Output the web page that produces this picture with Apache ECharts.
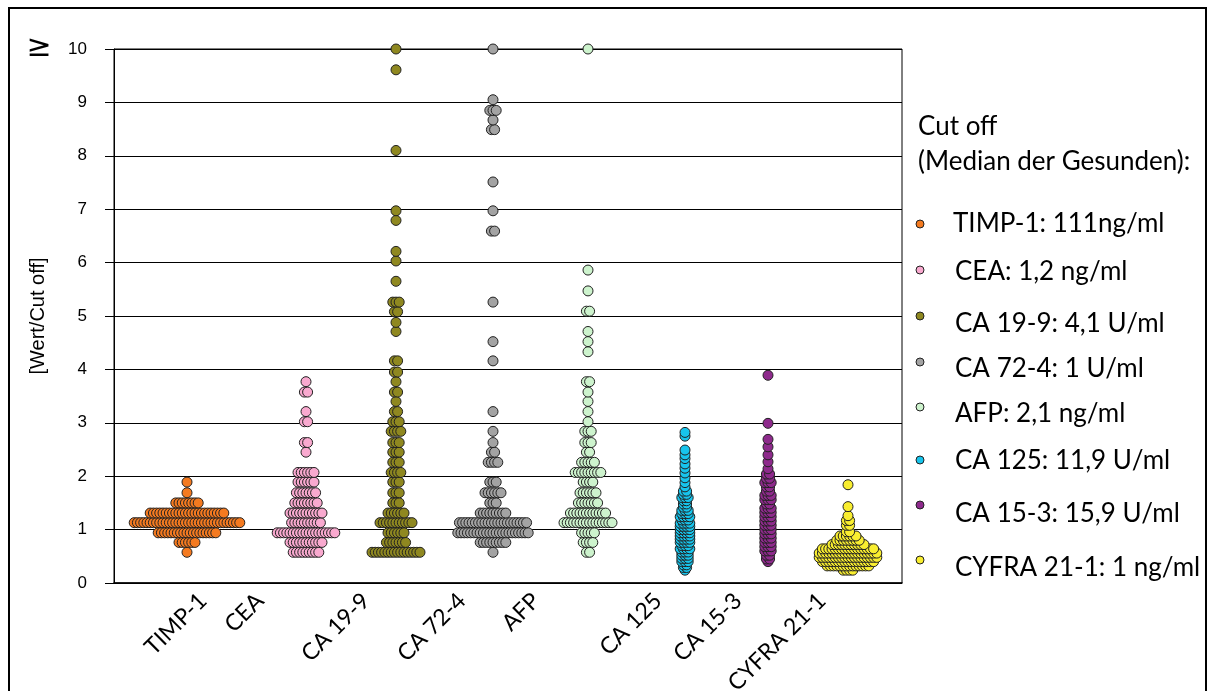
<!DOCTYPE html>
<html>
<head>
<meta charset="utf-8">
<script src="https://cdn.jsdelivr.net/npm/echarts@6/dist/echarts.min.js"></script>
<style>
  html, body { margin: 0; padding: 0; background: #fff; }
  #chart { width: 1214px; height: 691px; }
</style>
</head>
<body>
<div id="chart"></div>
<script>
// Marker names and their cut-off values (median of healthy controls)
const categories = ['TIMP-1', 'CEA', 'CA 19-9', 'CA 72-4', 'AFP', 'CA 125', 'CA 15-3', 'CYFRA 21-1'];
const cutoffs = ['111ng/ml', '1,2 ng/ml', '4,1 U/ml', '1 U/ml', '2,1 ng/ml', '11,9 U/ml', '15,9 U/ml', '1 ng/ml'];
const colors = ['#F47A20', '#F9A9CF', '#8F8820', '#A3A3A3', '#CDF3CD', '#17C4EC', '#8E2A8C', '#F9EE2F'];

// Y axis ticks
const yTicks = [0, 1, 2, 3, 4, 5, 6, 7, 8, 9, 10];

// Value levels [Wert/Cut off] and number of patients at each level
const timpLevels = [0.575, 0.76, 0.94, 1.13, 1.31, 1.5, 1.69, 1.89];
const timpCounts = [1, 6, 19, 34, 24, 8, 1, 1];

const ceaLevels = [0.575, 0.76, 0.94, 1.13, 1.31, 1.5, 1.69, 1.89, 2.07, 2.45, 2.63, 3.02, 3.21, 3.575, 3.77];
const ceaCounts = [9, 11, 19, 10, 11, 8, 7, 6, 6, 1, 2, 2, 1, 2, 1];

const ca199Levels = [0.575, 0.76, 0.94, 1.13, 1.31, 1.5, 1.69, 1.89, 2.07, 2.26, 2.45, 2.63, 2.84, 3.02, 3.21, 3.4, 3.575, 3.77, 3.95, 4.16, 4.71, 4.88, 5.08, 5.26, 5.65, 6.03, 6.21, 6.79, 6.97, 8.1, 9.61, 10];
const ca199Counts = [16, 7, 6, 11, 6, 3, 3, 3, 4, 3, 3, 3, 4, 3, 2, 1, 2, 1, 2, 2, 1, 1, 2, 3, 1, 1, 1, 1, 1, 1, 1, 1];

const ca724Levels = [0.575, 0.76, 0.94, 1.13, 1.31, 1.5, 1.69, 1.89, 2.26, 2.45, 2.63, 2.84, 3.21, 4.16, 4.52, 5.26, 6.59, 6.97, 7.51, 8.49, 8.67, 8.85, 9.05, 10];
const ca724Counts = [1, 9, 23, 22, 9, 3, 6, 3, 4, 2, 1, 1, 1, 1, 1, 1, 2, 1, 1, 2, 1, 3, 1, 1];

const afpLevels = [0.575, 0.76, 0.94, 1.13, 1.31, 1.5, 1.69, 1.89, 2.07, 2.26, 2.45, 2.63, 2.84, 3.02, 3.21, 3.4, 3.575, 3.77, 4.33, 4.52, 4.71, 5.09, 5.47, 5.86, 10];
const afpCounts = [2, 4, 5, 16, 12, 7, 6, 4, 9, 5, 2, 3, 3, 1, 1, 1, 1, 2, 1, 1, 1, 2, 1, 1, 1];

const ca125Levels = [0.24, 0.29, 0.34, 0.40, 0.46, 0.52, 0.58, 0.64, 0.70, 0.76, 0.82, 0.88, 0.94, 1.00, 1.06, 1.12, 1.18, 1.24, 1.30, 1.36, 1.42, 1.48, 1.54, 1.60, 1.66, 1.72, 1.80, 1.88, 1.97, 2.06, 2.15, 2.23, 2.33, 2.40, 2.49, 2.75, 2.82];
const ca125Counts = [1, 2, 2, 3, 3, 3, 3, 4, 3, 4, 4, 4, 4, 4, 4, 4, 3, 4, 3, 3, 2, 2, 2, 3, 2, 2, 1, 1, 1, 1, 1, 1, 1, 1, 1, 1, 1];

const ca153Levels = [0.40, 0.45, 0.52, 0.60, 0.68, 0.76, 0.84, 0.92, 1.00, 1.08, 1.16, 1.24, 1.32, 1.40, 1.48, 1.56, 1.64, 1.72, 1.80, 1.88, 1.96, 2.04, 2.14, 2.27, 2.40, 2.55, 2.69, 2.99, 3.89];
const ca153Counts = [1, 2, 2, 3, 3, 3, 3, 3, 3, 3, 3, 3, 3, 3, 2, 3, 3, 2, 2, 3, 2, 2, 1, 1, 1, 1, 1, 1, 1];

const cyfraLevels = [0.24, 0.32, 0.40, 0.48, 0.56, 0.64, 0.72, 0.80, 0.88, 0.96, 1.08, 1.17, 1.26, 1.43, 1.84];
const cyfraCounts = [4, 14, 17, 19, 19, 17, 11, 8, 6, 2, 2, 2, 1, 1, 1];

const levelSets = [timpLevels, ceaLevels, ca199Levels, ca724Levels, afpLevels, ca125Levels, ca153Levels, cyfraLevels];
const countSets = [timpCounts, ceaCounts, ca199Counts, ca724Counts, afpCounts, ca125Counts, ca153Counts, cyfraCounts];

// Layout: horizontal axis runs in pixel-like units across the plot area
const X_SPAN = 788;
const columnCenters = [73, 192, 282, 379, 474, 571, 654, 734];
const labelAnchors = [89, 146, 252, 348, 422, 544, 624, 708];
const STEP = 3.2; // horizontal spacing of points sharing a level

function swarm(center, levels, counts) {
  const pts = [];
  levels.forEach((v, k) => {
    const n = counts[k];
    for (let i = 0; i < n; i++) pts.push([center + (i - (n - 1) / 2) * STEP, v]);
  });
  return pts;
}

const series = categories.map((name, i) => ({
  name,
  type: 'scatter',
  symbol: 'circle',
  symbolSize: 10,
  data: swarm(columnCenters[i], levelSets[i], countSets[i]),
  itemStyle: { color: colors[i], borderColor: '#222', borderWidth: 1, opacity: 1 },
  emphasis: { disabled: true },
  silent: true
}));

// Legend block drawn as shapes + text
const LEGEND_FONT = '26px Lato';
const legendMarkY = [224, 270, 316, 362, 407, 460, 505, 560];
const legendTextY = [224, 272, 324, 369, 414, 461, 514, 568];
const legendGraphics = [];
categories.forEach((name, i) => {
  legendGraphics.push({
    type: 'circle', shape: { cx: 920, cy: legendMarkY[i], r: 4 },
    style: { fill: colors[i], stroke: '#222', lineWidth: 1 }
  });
  legendGraphics.push({
    type: 'text', x: i === 0 ? 953 : 955, y: legendTextY[i],
    style: { text: name + ': ' + cutoffs[i], font: LEGEND_FONT, fill: '#000', verticalAlign: 'middle' }
  });
});

const chart = echarts.init(document.getElementById('chart'), null, { renderer: 'canvas' });
chart.setOption({
  animation: false,
  backgroundColor: '#fff',
  grid: {
    left: 114, top: 49, right: 312, bottom: 108,
    outerBoundsMode: 'none', containLabel: false,
    show: true, borderColor: '#000', borderWidth: 1, backgroundColor: 'transparent'
  },
  xAxis: {
    type: 'value', min: 0, max: X_SPAN,
    splitLine: { show: false },
    axisTick: { show: false },
    axisLine: { show: true, onZero: false, lineStyle: { color: '#000', width: 1.5 } },
    axisLabel: {
      customValues: labelAnchors,
      formatter: (v) => categories[labelAnchors.indexOf(v)] || '',
      rotate: 45, margin: 14,
      fontFamily: 'Lato', fontSize: 23, color: '#000'
    }
  },
  yAxis: {
    type: 'value', min: yTicks[0], max: yTicks[yTicks.length - 1], interval: 1,
    name: '[Wert/Cut off]', nameLocation: 'middle', nameRotate: 90, nameGap: 66,
    nameTextStyle: { fontFamily: 'Liberation Sans', fontSize: 20, color: '#000' },
    axisLine: { show: true, lineStyle: { color: '#000', width: 1 } },
    axisTick: { show: true, inside: false, length: 9, lineStyle: { color: '#000' } },
    axisLabel: { fontFamily: 'Liberation Sans', fontSize: 17, color: '#000', margin: 27 },
    splitLine: { show: true, lineStyle: { color: '#000', width: 1 } }
  },
  series,
  graphic: [
    { type: 'rect', shape: { x: 9, y: 8, width: 1197, height: 700 }, style: { fill: 'none', stroke: '#000', lineWidth: 2 }, silent: true },
    { type: 'text', x: 39, y: 48, style: { text: '≥', font: '30px "DejaVu Sans"', fill: '#000', align: 'center', verticalAlign: 'middle' } },
    { type: 'text', x: 918, y: 127, style: { text: 'Cut off', font: LEGEND_FONT, fill: '#000', verticalAlign: 'middle' } },
    { type: 'text', x: 918, y: 162, style: { text: '(Median der Gesunden):', font: LEGEND_FONT, fill: '#000', verticalAlign: 'middle' } },
    ...legendGraphics
  ]
});
</script>
</body>
</html>
